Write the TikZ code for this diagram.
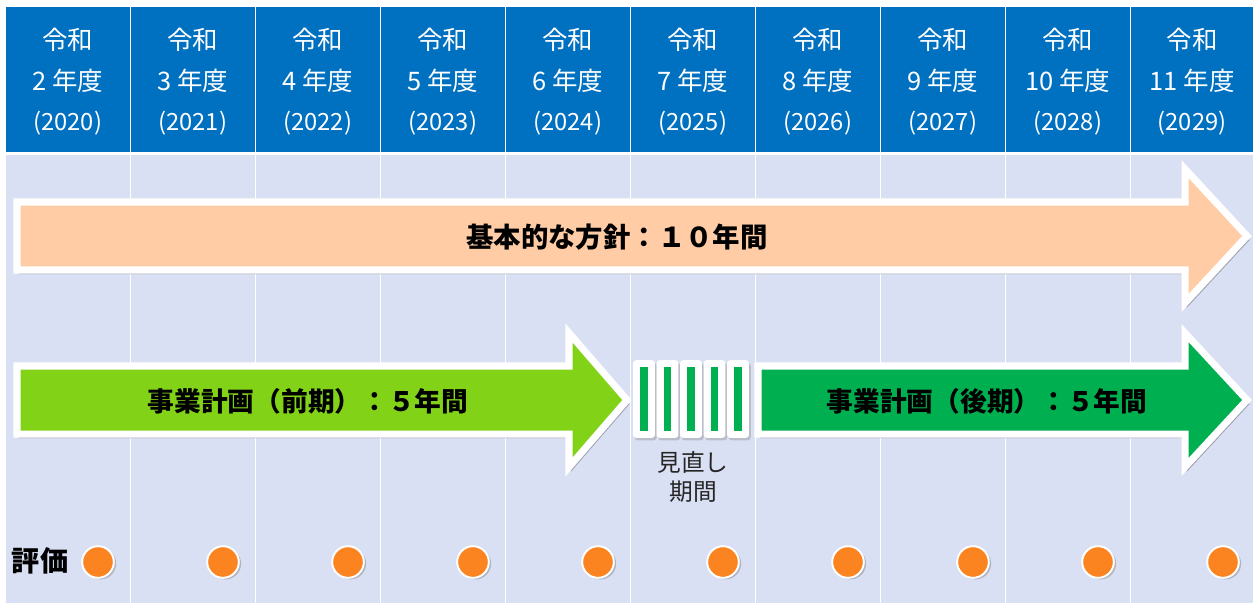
\documentclass[tikz,border=0pt]{standalone}
\usepackage{fontspec}
\usepackage{tikz}
\usetikzlibrary{shadows}
\newfontfamily\jp{Noto Sans CJK JP}

\definecolor{headblue}{RGB}{0,112,192}
\definecolor{bodylav}{RGB}{218,224,243}
\definecolor{peach}{RGB}{255,204,166}
\definecolor{lime}{RGB}{130,211,24}
\definecolor{planGreen}{RGB}{0,176,80}
\definecolor{dotorange}{RGB}{252,132,32}

\tikzstyle{headcell}=[fill=headblue]
\tikzstyle{bodycell}=[fill=bodylav]
\tikzstyle{yearhead}=[text=white,align=center,inner sep=0pt,font=\jp\fontsize{14.5}{23}\selectfont]
\tikzstyle{bigarrow}=[draw=white,line width=4pt,line join=miter,
  preaction={fill=bodylav!72!black,draw=bodylav!72!black,transform canvas={shift={(1.2pt,-2.2pt)}}}]
\tikzstyle{planlabel}=[inner sep=0pt,font=\jp\bfseries\fontsize{15.2}{18}\selectfont]
\tikzstyle{reviewbox}=[fill=white,rounded corners=1.8pt,minimum width=12.5pt,minimum height=44.2pt,inner sep=0pt,
  drop shadow={shadow xshift=1pt,shadow yshift=-1.5pt,opacity=0.35}]
\tikzstyle{reviewbar}=[fill=planGreen,minimum width=4pt,minimum height=36.3pt,inner sep=0pt]
\tikzstyle{reviewtext}=[align=center,inner sep=0pt,text=black!85,font=\jp\fontsize{13.5}{17}\selectfont]
\tikzstyle{evaltext}=[inner sep=0pt,font=\jp\bfseries\fontsize{16}{18}\selectfont]
\tikzstyle{evaldot}=[circle,fill=dotorange,draw=white,line width=1.1pt,minimum size=18pt,inner sep=0pt,
  drop shadow={shadow xshift=1.3pt,shadow yshift=-0.9pt,opacity=0.45}]

\begin{document}
\begin{tikzpicture}[x=0.02cm,y=-0.02cm]
\useasboundingbox (0,0) rectangle (1253,603);

% columns
\fill[headcell] (6,7) rectangle (129.5,152);
\fill[bodycell] (6,155) rectangle (129.5,603);
\fill[headcell] (131,7) rectangle (254.5,152);
\fill[bodycell] (131,155) rectangle (254.5,603);
\fill[headcell] (256,7) rectangle (379.5,152);
\fill[bodycell] (256,155) rectangle (379.5,603);
\fill[headcell] (381,7) rectangle (504.5,152);
\fill[bodycell] (381,155) rectangle (504.5,603);
\fill[headcell] (506,7) rectangle (629.5,152);
\fill[bodycell] (506,155) rectangle (629.5,603);
\fill[headcell] (631,7) rectangle (754.5,152);
\fill[bodycell] (631,155) rectangle (754.5,603);
\fill[headcell] (756,7) rectangle (879.5,152);
\fill[bodycell] (756,155) rectangle (879.5,603);
\fill[headcell] (881,7) rectangle (1004.5,152);
\fill[bodycell] (881,155) rectangle (1004.5,603);
\fill[headcell] (1006,7) rectangle (1129.5,152);
\fill[bodycell] (1006,155) rectangle (1129.5,603);
\fill[headcell] (1131,7) rectangle (1253,152);
\fill[bodycell] (1131,155) rectangle (1253,603);

% year headers
\node[yearhead] (y2020) at (67.75,82) {令和\\2 年度\\{\fontsize{13.5}{23}\selectfont (2020)}};
\node[yearhead] (y2021) at (192.75,82) {令和\\3 年度\\{\fontsize{13.5}{23}\selectfont (2021)}};
\node[yearhead] (y2022) at (317.75,82) {令和\\4 年度\\{\fontsize{13.5}{23}\selectfont (2022)}};
\node[yearhead] (y2023) at (442.75,82) {令和\\5 年度\\{\fontsize{13.5}{23}\selectfont (2023)}};
\node[yearhead] (y2024) at (567.75,82) {令和\\6 年度\\{\fontsize{13.5}{23}\selectfont (2024)}};
\node[yearhead] (y2025) at (692.75,82) {令和\\7 年度\\{\fontsize{13.5}{23}\selectfont (2025)}};
\node[yearhead] (y2026) at (817.75,82) {令和\\8 年度\\{\fontsize{13.5}{23}\selectfont (2026)}};
\node[yearhead] (y2027) at (942.75,82) {令和\\9 年度\\{\fontsize{13.5}{23}\selectfont (2027)}};
\node[yearhead] (y2028) at (1067.75,82) {令和\\10 年度\\{\fontsize{13.5}{23}\selectfont (2028)}};
\node[yearhead] (y2029) at (1192,82) {令和\\11 年度\\{\fontsize{13.5}{23}\selectfont (2029)}};

% plan arrows
\draw[bigarrow,fill=peach] (17,202) -- (1185,202) -- (1185,169) -- (1247,236)
  -- (1185,303) -- (1185,270) -- (17,270) -- cycle;
\draw[bigarrow,fill=lime] (17,366) -- (569,366) -- (569,333) -- (627,400)
  -- (569,467) -- (569,434) -- (17,434) -- cycle;
\draw[bigarrow,fill=planGreen] (758,366) -- (1185,366) -- (1185,333) -- (1247,400)
  -- (1185,467) -- (1185,434) -- (758,434) -- cycle;

\node[planlabel,font=\jp\bfseries\fontsize{15.6}{18}\selectfont] (basic) at (617,237) {基本的な方針：１０年間};
\node[planlabel] (first) at (308,401) {事業計画（前期）：５年間};
\node[planlabel] (second) at (987,401) {事業計画（後期）：５年間};

% review period
\node[reviewbox] (rv1) at (644,399) {};
\node[reviewbar] (rb1) at (rv1) {};
\node[reviewbox] (rv2) at (667.5,399) {};
\node[reviewbar] (rb2) at (rv2) {};
\node[reviewbox] (rv3) at (691,399) {};
\node[reviewbar] (rb3) at (rv3) {};
\node[reviewbox] (rv4) at (714.5,399) {};
\node[reviewbar] (rb4) at (rv4) {};
\node[reviewbox] (rv5) at (738,399) {};
\node[reviewbar] (rb5) at (rv5) {};
\node[reviewtext] (review) at (693,477) {見直し\\期間};

% evaluation
\node[evaltext] (eval) at (40,561) {評価};
\node[evaldot] (e2020) at (98,562) {};
\node[evaldot] (e2021) at (223,562) {};
\node[evaldot] (e2022) at (348,562) {};
\node[evaldot] (e2023) at (473,562) {};
\node[evaldot] (e2024) at (598,562) {};
\node[evaldot] (e2025) at (723,562) {};
\node[evaldot] (e2026) at (848,562) {};
\node[evaldot] (e2027) at (973,562) {};
\node[evaldot] (e2028) at (1098,562) {};
\node[evaldot] (e2029) at (1223,562) {};

\end{tikzpicture}
\end{document}
